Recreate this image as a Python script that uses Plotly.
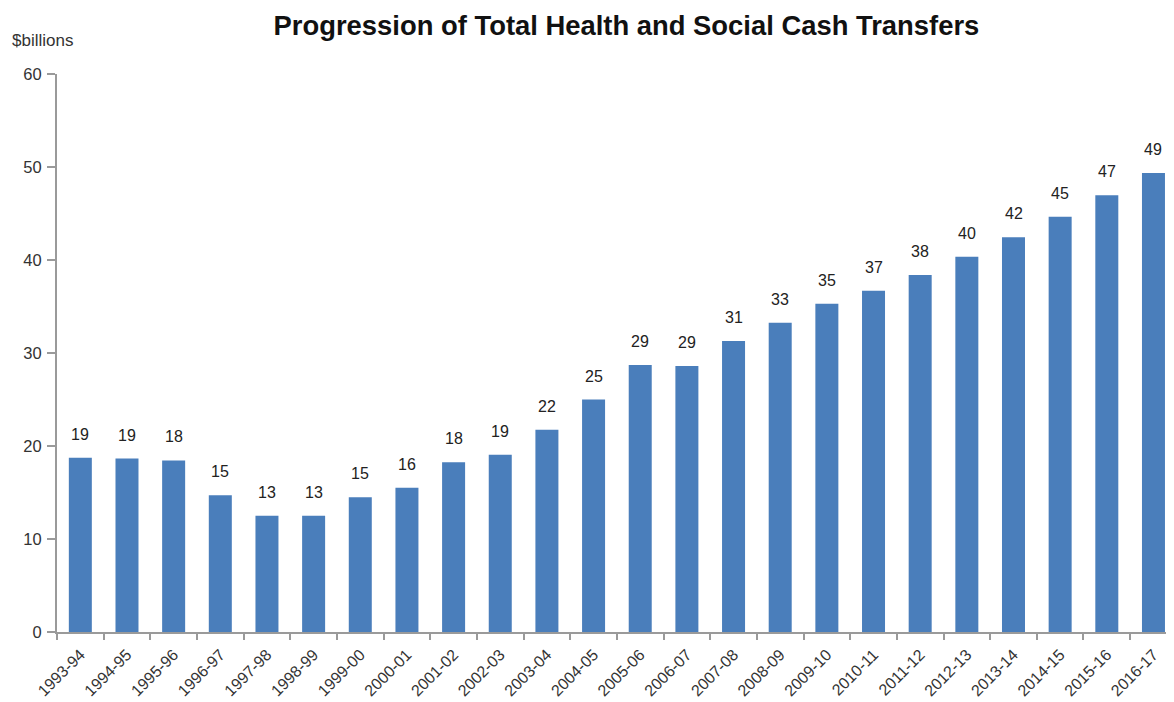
import plotly.graph_objects as go

years = ["1993-94", "1994-95", "1995-96", "1996-97", "1997-98", "1998-99", "1999-00",
         "2000-01", "2001-02", "2002-03", "2003-04", "2004-05", "2005-06", "2006-07",
         "2007-08", "2008-09", "2009-10", "2010-11", "2011-12", "2012-13", "2013-14",
         "2014-15", "2015-16", "2016-17"]
transfers = [18.75, 18.65, 18.45, 14.7, 12.5, 12.5, 14.5, 15.5, 18.25, 19.05, 21.75, 25.0,
             28.7, 28.6, 31.3, 33.25, 35.3, 36.7, 38.4, 40.35, 42.45, 44.65, 46.95, 49.35]
labels = ["19", "19", "18", "15", "13", "13", "15", "16", "18", "19", "22", "25",
          "29", "29", "31", "33", "35", "37", "38", "40", "42", "45", "47", "49"]
y_ticks = [0, 10, 20, 30, 40, 50, 60]

FONT = "Liberation Sans, Arial, Helvetica, sans-serif"
BAR = "#4A7EBB"
AXIS = "#9a9a9a"

fig = go.Figure()
fig.add_trace(go.Bar(x=years, y=transfers, marker=dict(color=BAR, line=dict(width=0)),
                     hoverinfo="x+y"))

for yr, v, lab in zip(years, transfers, labels):
    fig.add_annotation(x=yr, y=v, text=lab, showarrow=False, yanchor="bottom",
                       yshift=13, font=dict(family=FONT, size=16, color="#222222"))

fig.add_annotation(xref="paper", yref="paper", x=-0.042, xanchor="left",
                   y=1.0, yanchor="bottom", yshift=22, text="$billions", showarrow=False,
                   font=dict(family=FONT, size=17, color="#333333"))

fig.update_layout(
    width=1166, height=694,
    margin=dict(l=49, r=0, t=66, b=70, pad=0),
    paper_bgcolor="white", plot_bgcolor="white",
    bargap=0.507,
    showlegend=False,
    font=dict(family=FONT, color="#333333"),
    title=dict(text="<b>Progression of Total Health and Social Cash Transfers</b>",
               x=0.5304, xanchor="center", y=0.975, yanchor="middle",
               font=dict(family=FONT, size=27.4, color="#111111")),
)
fig.update_xaxes(
    type="category", range=[-0.5, 23.44], automargin=False, showgrid=False,
    showline=True, linecolor=AXIS, linewidth=2,
    ticks="outside", tickson="boundaries", ticklen=6, tickcolor=AXIS, tickwidth=1.5,
    ticklabelstandoff=5,
    tickangle=-45, tickfont=dict(family=FONT, size=16, color="#333333"),
)
fig.update_yaxes(
    range=[0, 60], tickvals=y_ticks, automargin=False, showgrid=False, showline=True,
    linecolor=AXIS, linewidth=2, ticks="outside", ticklen=8, tickcolor=AXIS,
    tickwidth=1.5, ticklabelstandoff=2,
    zeroline=False, tickfont=dict(family=FONT, size=16.5, color="#333333"),
)

fig.write_html("out.html")
